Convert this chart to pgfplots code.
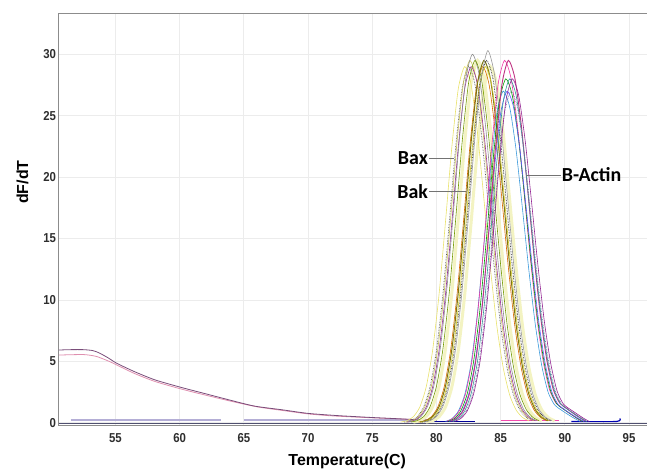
\documentclass[border=0pt]{standalone}
\usepackage{fontspec}
\setmainfont{Liberation Sans}
\newfontfamily\narrowsf[FakeStretch=0.88]{Liberation Sans}
\newfontfamily\calib{Carlito}
\usepackage{pgfplots}
\pgfplotsset{compat=1.18}

\definecolor{gridc}{HTML}{ECECEC}
\definecolor{framec}{HTML}{8C8C8C}
\definecolor{tickc}{HTML}{2E2E2E}
\definecolor{paleyel}{HTML}{F3F3C2}
\definecolor{lavend}{HTML}{B4AED6}
\definecolor{basec}{HTML}{505070}

\begin{document}
\begin{tikzpicture}
\begin{axis}[
  name=ax,
  scale only axis,
  width=591.4bp, height=412.3bp,
  xmin=50.57, xmax=96.63,
  ymin=-0.25, ymax=33.32,
  xtick={55,60,65,70,75,80,85,90,95},
  ytick={0,5,10,15,20,25,30},
  major tick length=0pt,
  grid=major,
  major grid style={draw=gridc, line width=0.8pt},
  axis line style={draw=framec, line width=1pt},
  /pgf/number format/assume math mode=true,
  ticklabel style={font=\narrowsf\bfseries\fontsize{13}{13}\selectfont, text=tickc},
  xticklabel style={yshift=-4bp},
  yticklabel style={xshift=1bp},
  xlabel={\bfseries Temperature(C)},
  ylabel={\bfseries dF/dT},
  label style={font=\fontsize{16}{16}\selectfont, text=black},
  xlabel style={at={(axis description cs:0.488,-0.0968)}, anchor=base},
  ylabel style={at={(axis description cs:-0.061,0.591)}, anchor=center},
  every axis plot/.append style={line width=0.6pt, smooth, tension=0.4},
]
% baselines
\addplot[color=basec, line width=1.5pt, smooth=false] coordinates {(50.57,-0.05)(96.63,-0.05)};
\addplot[color=lavend, line width=1.6pt, smooth=false] coordinates {(51.5,0.2)(63.2,0.2)};
\addplot[color=lavend, line width=1.6pt, smooth=false] coordinates {(65.0,0.2)(80.0,0.2)};
\addplot[color=blue!60!black, line width=1.2pt, smooth=false] coordinates {(79.5,0.1)(83.0,0.1)};
\addplot[color=magenta!70, line width=1.2pt, smooth=false] coordinates {(85.0,0.15)(89.5,0.15)};
\addplot[color=blue!70!black, line width=1.2pt, smooth=false] coordinates {(90.5,0.1)(94.0,0.1)(94.3,0.35)};

% primer-dimer traces
\addplot[color=violet!25!pink, line width=0.8pt] coordinates {
(50.6,5.51)(52.5,5.55)(53.5,5.4)(54.5,5.0)(55.1,4.7)(56.5,4.0)(58.1,3.35)(60.1,2.75)(62,2.25)(64,1.75)
(66,1.3)(68,1.0)(70,0.72)(72,0.55)(75,0.4)(78,0.27)(80,0.2)};
\addplot[color=violet!50!black!70, line width=0.8pt] coordinates {
(50.6,5.92)(51.5,5.95)(52.5,5.95)(53.2,5.88)(53.7,5.7)(54.4,5.3)(55.1,4.84)(56.5,4.15)(58.1,3.48)(60.1,2.88)
(61.9,2.39)(63.7,1.9)(65.8,1.36)(68,1.05)(70,0.76)(72.3,0.58)(74.7,0.44)(76.3,0.36)(78.3,0.26)(80,0.18)};

% pale yellow bands
\addplot[color=paleyel, line width=3pt] coordinates {
(78.2,0.05)(78.7,0.17)(79.2,0.50)(79.7,1.30)(80.2,2.97)(80.7,5.99)(81.2,10.62)(81.7,16.61)(82.2,22.86)(82.7,27.67)
(83.2,29.5)(83.7,28.0)(84.2,23.95)(84.7,18.47)(85.2,12.83)(85.7,8.02)(86.2,4.54)(86.7,2.30)(87.2,1.06)(87.7,0.44)(88.2,0.16)};
\addplot[color=paleyel, line width=3pt] coordinates {
(79.2,0.05)(79.7,0.17)(80.2,0.49)(80.7,1.27)(81.2,2.92)(81.7,5.89)(82.2,10.44)(82.7,16.33)(83.2,22.48)(83.7,27.20)
(84.2,29)(84.7,27.52)(85.2,23.55)(85.7,18.15)(86.2,12.62)(86.7,7.89)(87.2,4.47)(87.7,2.26)(88.2,1.04)(88.7,0.43)(89.2,0.16)};

% Bax
\addplot[color=yellow!60!white!90!black] coordinates {
(77.2,0.05)(77.7,0.17)(78.2,0.49)(78.7,1.27)(79.2,2.92)(79.7,5.89)(80.2,10.44)(80.7,16.33)(81.2,22.48)(81.7,27.20)
(82.2,29)(82.7,27.52)(83.2,23.55)(83.7,18.15)(84.2,12.62)(84.7,7.89)(85.2,4.47)(85.7,2.26)(86.2,1.04)(86.7,0.43)(87.2,0.16)};
\addplot[color=black!65, densely dotted, line width=0.8pt] coordinates {
(77.5,0.05)(78,0.17)(78.5,0.49)(79,1.27)(79.5,2.92)(80,5.89)(80.5,10.44)(81,16.33)(81.5,22.48)(82,27.20)
(82.5,29)(83,27.52)(83.5,23.55)(84,18.15)(84.5,12.62)(85,7.89)(85.5,4.47)(86,2.26)(86.5,1.04)(87,0.43)(87.5,0.16)};
\addplot[color=yellow!70!black!80] coordinates {
(77.6,0.05)(78.1,0.17)(78.6,0.50)(79.1,1.30)(79.6,2.97)(80.1,5.99)(80.6,10.62)(81.1,16.61)(81.6,22.86)(82.1,27.67)
(82.6,29.5)(83.1,28.0)(83.6,23.95)(84.1,18.47)(84.6,12.83)(85.1,8.02)(85.6,4.54)(86.1,2.30)(86.6,1.06)(87.1,0.44)(87.6,0.16)};
\addplot[color=violet!80!white] coordinates {
(77.7,0.05)(78.2,0.17)(78.7,0.49)(79.2,1.27)(79.7,2.92)(80.2,5.89)(80.7,10.44)(81.2,16.33)(81.7,22.48)(82.2,27.20)
(82.7,29)(83.2,27.52)(83.7,23.55)(84.2,18.15)(84.7,12.62)(85.2,7.89)(85.7,4.47)(86.2,2.26)(86.7,1.04)(87.2,0.43)(87.7,0.16)};
\addplot[color=black!45] coordinates {
(77.8,0.05)(78.3,0.17)(78.8,0.51)(79.3,1.32)(79.8,3.02)(80.3,6.09)(80.8,10.8)(81.3,16.89)(81.8,23.25)(82.3,28.14)
(82.8,30)(83.3,28.47)(83.8,24.36)(84.3,18.78)(84.8,13.05)(85.3,8.16)(85.8,4.62)(86.3,2.34)(86.8,1.07)(87.3,0.44)(87.8,0.17)};
\addplot[color=lime!60!black] coordinates {
(78,0.05)(78.5,0.17)(79,0.50)(79.5,1.30)(80,2.97)(80.5,5.99)(81,10.62)(81.5,16.61)(82,22.86)(82.5,27.67)
(83,29.5)(83.5,28.0)(84,23.95)(84.5,18.47)(85,12.83)(85.5,8.02)(86,4.54)(86.5,2.30)(87,1.06)(87.5,0.44)(88,0.16)};

% Bak
\addplot[color=orange!85!black] coordinates {
(78.6,0.05)(79.1,0.17)(79.6,0.49)(80.1,1.27)(80.6,2.92)(81.1,5.89)(81.6,10.44)(82.1,16.33)(82.6,22.48)(83.1,27.20)
(83.6,29)(84.1,27.52)(84.6,23.55)(85.1,18.15)(85.6,12.62)(86.1,7.89)(86.6,4.47)(87.1,2.26)(87.6,1.04)(88.1,0.43)(88.6,0.16)};
\addplot[color=olive!85!black, line width=1pt] coordinates {
(78.7,0.05)(79.2,0.17)(79.7,0.50)(80.2,1.30)(80.7,2.97)(81.2,5.99)(81.7,10.62)(82.2,16.61)(82.7,22.86)(83.2,27.67)
(83.7,29.5)(84.2,28.0)(84.7,23.95)(85.2,18.47)(85.7,12.83)(86.2,8.02)(86.7,4.54)(87.2,2.30)(87.7,1.06)(88.2,0.44)(88.7,0.16)};
\addplot[color=yellow!80!black] coordinates {
(78.8,0.05)(79.3,0.17)(79.8,0.49)(80.3,1.27)(80.8,2.92)(81.3,5.89)(81.8,10.44)(82.3,16.33)(82.8,22.48)(83.3,27.20)
(83.8,29)(84.3,27.52)(84.8,23.55)(85.3,18.15)(85.8,12.62)(86.3,7.89)(86.8,4.47)(87.3,2.26)(87.8,1.04)(88.3,0.43)(88.8,0.16)};
\addplot[color=black!85, densely dotted, line width=0.8pt] coordinates {
(78.9,0.05)(79.4,0.17)(79.9,0.50)(80.4,1.30)(80.9,2.97)(81.4,5.99)(81.9,10.62)(82.4,16.61)(82.9,22.86)(83.4,27.67)
(83.9,29.5)(84.4,28.0)(84.9,23.95)(85.4,18.47)(85.9,12.83)(86.4,8.02)(86.9,4.54)(87.4,2.30)(87.9,1.06)(88.4,0.44)(88.9,0.16)};
\addplot[color=black!40] coordinates {
(79,0.05)(79.5,0.17)(80,0.51)(80.5,1.32)(81,3.02)(81.5,6.09)(82,10.8)(82.5,16.89)(83,23.25)(83.5,28.14)
(84,30.3)(84.5,28.47)(85,24.36)(85.5,18.78)(86,13.05)(86.5,8.16)(87,4.62)(87.5,2.34)(88,1.07)(88.5,0.44)(89,0.17)};

% B-Actin
\addplot[color=cyan!70!blue!80] coordinates {
(80.7,0.11)(81.2,0.33)(81.7,0.94)(82.2,2.29)(82.7,4.86)(83.2,9.02)(83.7,14.55)(84.2,20.52)(84.7,25.22)(85.2,27)(85.7,25.70)
(86.2,22.22)(86.7,17.39)(87.2,12.37)(87.7,7.97)(88.2,4.64)(88.7,2.47)(89.2,1.45)(89.7,1.05)(90.2,0.7)(90.7,0.38)(91.2,0.1)};
\addplot[color=magenta!80!white] coordinates {
(80.8,0.12)(81.3,0.37)(81.8,1.02)(82.3,2.50)(82.8,5.31)(83.3,9.85)(83.8,15.90)(84.3,22.42)(84.8,27.55)(85.3,29.5)(85.8,28.08)
(86.3,24.28)(86.8,19.0)(87.3,13.51)(87.8,8.70)(88.3,5.07)(88.8,2.70)(89.3,1.6)(89.8,1.2)(90.3,0.8)(90.8,0.45)(91.3,0.12)};
\addplot[color=green!60!black] coordinates {
(80.9,0.11)(81.4,0.35)(81.9,0.97)(82.4,2.37)(82.9,5.04)(83.4,9.35)(83.9,15.09)(84.4,21.28)(84.9,26.15)(85.4,28)(85.9,26.66)
(86.4,23.04)(86.9,18.03)(87.4,12.82)(87.9,8.26)(88.4,4.82)(88.9,2.56)(89.4,1.5)(89.9,1.1)(90.4,0.75)(90.9,0.4)(91.4,0.1)};
\addplot[color=blue!65!white] coordinates {
(81,0.11)(81.5,0.33)(82,0.94)(82.5,2.29)(83,4.86)(83.5,9.02)(84,14.55)(84.5,20.52)(85,25.22)(85.5,27)(86,25.70)
(86.5,22.22)(87,17.39)(87.5,12.37)(88,7.97)(88.5,4.64)(89,2.47)(89.5,1.45)(90,1.05)(90.5,0.7)(91,0.38)(91.5,0.1)};
\addplot[color=magenta!75!black, line width=0.9pt] coordinates {
(81.1,0.12)(81.6,0.37)(82.1,1.02)(82.6,2.50)(83.1,5.31)(83.6,9.85)(84.1,15.90)(84.6,22.42)(85.1,27.55)(85.6,29.5)(86.1,28.08)
(86.6,24.28)(87.1,19.0)(87.6,13.51)(88.1,8.70)(88.6,5.07)(89.1,2.70)(89.6,1.6)(90.1,1.2)(90.6,0.8)(91.1,0.45)(91.6,0.12)};
\addplot[color=teal!80!white] coordinates {
(81.2,0.11)(81.7,0.35)(82.2,0.97)(82.7,2.37)(83.2,5.04)(83.7,9.35)(84.2,15.09)(84.7,21.28)(85.2,26.15)(85.7,28)(86.2,26.66)
(86.7,23.04)(87.2,18.03)(87.7,12.82)(88.2,8.26)(88.7,4.82)(89.2,2.56)(89.7,1.5)(90.2,1.1)(90.7,0.75)(91.2,0.4)(91.7,0.1)};
\addplot[color=blue!30!black!55, densely dotted, line width=0.8pt] coordinates {
(81.3,0.11)(81.8,0.33)(82.3,0.94)(82.8,2.29)(83.3,4.86)(83.8,9.02)(84.3,14.55)(84.8,20.52)(85.3,25.22)(85.8,27)(86.3,25.70)
(86.8,22.22)(87.3,17.39)(87.8,12.37)(88.3,7.97)(88.8,4.64)(89.3,2.47)(89.8,1.45)(90.3,1.05)(90.8,0.7)(91.3,0.38)(91.8,0.1)};
\addplot[color=violet!85!white] coordinates {
(81.4,0.11)(81.9,0.35)(82.4,0.97)(82.9,2.37)(83.4,5.04)(83.9,9.35)(84.4,15.09)(84.9,21.28)(85.4,26.15)(85.9,28)(86.4,26.66)
(86.9,23.04)(87.4,18.03)(87.9,12.82)(88.4,8.26)(88.9,4.82)(89.4,2.56)(89.9,1.5)(90.4,1.1)(90.9,0.75)(91.4,0.4)(91.9,0.1)};

% labels
\draw[color=black!55, line width=1pt] (axis cs:79.4,21.53) -- (axis cs:81.4,21.53);
\draw[color=black!55, line width=1pt] (axis cs:79.4,18.83) -- (axis cs:82.3,18.83);
\draw[color=black!55, line width=1pt] (axis cs:87.0,20.17) -- (axis cs:89.7,20.17);
\node[anchor=east, inner sep=0pt, font=\calib\bfseries\fontsize{20}{20}\selectfont] at (axis cs:79.35,21.53) {Bax};
\node[anchor=east, inner sep=0pt, font=\calib\bfseries\fontsize{20}{20}\selectfont] at (axis cs:79.35,18.83) {Bak};
\node[anchor=west, inner sep=0pt, font=\calib\bfseries\fontsize{20}{20}\selectfont] at (axis cs:89.75,20.17) {B-Actin};
\end{axis}
\pgfresetboundingbox
\path (ax.south west) ++(-58.6bp,-43.2bp) rectangle ++(647bp,469bp);
\end{tikzpicture}
\end{document}
